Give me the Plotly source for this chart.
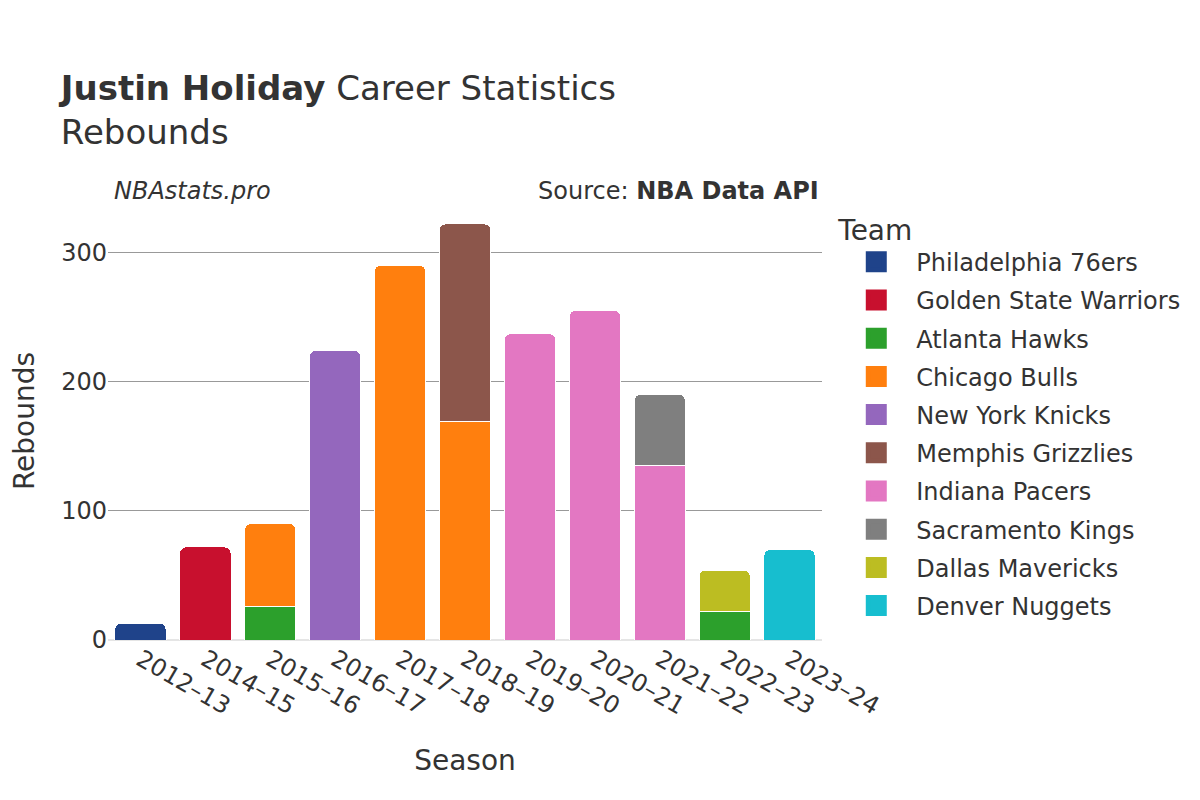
import plotly.graph_objects as go

seasons = ["2012–13", "2014–15", "2015–16", "2016–17", "2017–18", "2018–19",
           "2019–20", "2020–21", "2021–22", "2022–23", "2023–24"]

teams = ["Philadelphia 76ers", "Golden State Warriors", "Atlanta Hawks", "Chicago Bulls",
         "New York Knicks", "Memphis Grizzlies", "Indiana Pacers", "Sacramento Kings",
         "Dallas Mavericks", "Denver Nuggets"]

colors = ["#1f438a", "#c8102e", "#2ca02c", "#ff7f0e", "#9467bd", "#8c564b",
          "#e377c2", "#7f7f7f", "#bcbd22", "#17becf"]

philadelphia = [13, None, None, None, None, None, None, None, None, None, None]
golden_state = [None, 72, None, None, None, None, None, None, None, None, None]
atlanta = [None, None, 26, None, None, None, None, None, None, 22, None]
chicago = [None, None, 64, None, 290, 169, None, None, None, None, None]
new_york = [None, None, None, 224, None, None, None, None, None, None, None]
memphis = [None, None, None, None, None, 153, None, None, None, None, None]
indiana = [None, None, None, None, None, None, 237, 255, 135, None, None]
sacramento = [None, None, None, None, None, None, None, None, 55, None, None]
dallas = [None, None, None, None, None, None, None, None, None, 32, None]
denver = [None, None, None, None, None, None, None, None, None, None, 70]

series = [philadelphia, golden_state, atlanta, chicago, new_york, memphis,
          indiana, sacramento, dallas, denver]

FONT = "DejaVu Sans"
TEXT = "#333333"

fig = go.Figure()
for name, vals, col in zip(teams, series, colors):
    fig.add_trace(go.Bar(
        x=seasons, y=vals, name=name, legendgroup=name, showlegend=False,
        marker=dict(color=col, line=dict(color="white", width=1)),
    ))
# legend entries (larger swatches)
for name, col in zip(teams, colors):
    fig.add_trace(go.Scatter(
        x=[None], y=[None], mode="markers", name=name, legendgroup=name,
        marker=dict(symbol="square", size=16, color=col,
                    line=dict(color=col, width=5)),
        hoverinfo="skip",
    ))

fig.update_layout(
    barmode="stack",
    bargap=0.21,
    barcornerradius=6,
    width=1200, height=800,
    paper_bgcolor="white", plot_bgcolor="white",
    font=dict(family=FONT, size=24, color=TEXT),
    title=dict(
        text="<b>Justin Holiday</b> Career Statistics<br>Rebounds",
        x=0.044, xanchor="left", y=0.885, yanchor="top",
        font=dict(family=FONT, size=34, color=TEXT),
    ),
    margin=dict(l=100, r=386, t=194, b=168),
    showlegend=True,
    legend=dict(
        title=dict(text="Team", font=dict(size=28, color=TEXT)),
        font=dict(size=24, color=TEXT),
        x=1.02, xanchor="left", y=0.997, yanchor="top",
        itemwidth=70,
        tracegroupgap=4,
        traceorder="grouped",
    ),
    xaxis=dict(
        title=dict(text="Season", font=dict(size=28, color=TEXT), standoff=30),
        tickangle=30,
        tickfont=dict(size=24, color=TEXT),
        showgrid=False,
        automargin=False,
    ),
    yaxis=dict(
        title=dict(text="Rebounds", font=dict(size=28, color=TEXT), standoff=36),
        tickfont=dict(size=24, color=TEXT),
        gridcolor="#999999",
        zeroline=True, zerolinecolor="#e5e5e5", zerolinewidth=2,
        tickvals=[0, 100, 200, 300],
        automargin=False,
    ),
    annotations=[
        dict(text="<i>NBAstats.pro</i>", xref="paper", yref="paper",
             x=0.005, y=1.0, xanchor="left", yanchor="bottom", yshift=-5,
             showarrow=False, font=dict(size=24, color=TEXT)),
        dict(text="Source: <b>NBA Data API</b>", xref="paper", yref="paper",
             x=0.9985, y=1.0, xanchor="right", yanchor="bottom", yshift=-5,
             showarrow=False, font=dict(size=24, color=TEXT)),
    ],
)

fig.write_html("out.html")
